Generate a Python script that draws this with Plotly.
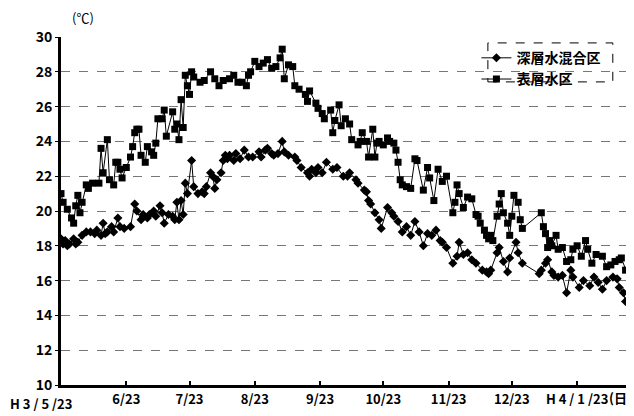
import pandas as pd
import plotly.graph_objects as go

# ---- data (days since H3/5/23 = 1991-05-23) ----
deep_days = [0, 1, 2, 3, 4, 6, 7, 8, 10, 12, 14, 16, 17, 19, 20, 21, 22, 24, 25, 27, 28, 30, 33, 35, 36,
             38, 39, 41, 42, 44, 45, 47, 48, 49, 51, 53, 54, 55, 56, 57, 58, 59, 60, 62, 63, 65, 67, 68,
             69, 71, 72, 73, 74, 76, 77, 78, 79, 80, 82, 83, 85, 87, 89, 91, 94, 95, 97, 98, 100, 101,
             103, 105, 106, 108, 111, 112, 114, 117, 118, 119, 121, 122, 124, 126, 129, 131, 134, 136,
             137, 140, 141, 144, 145, 146, 147, 149, 151, 152, 155, 157, 158, 160, 162, 164, 166, 168,
             170, 172, 174, 176, 178, 180, 181, 183, 186, 188, 189, 191, 193, 195, 197, 200, 202, 203,
             204, 207, 208, 210, 212, 213, 216, 217, 219, 227, 228, 230, 231, 233, 234, 236, 238, 240,
             242, 243, 246, 248, 251, 253, 255, 257, 259, 262, 264, 265, 267, 268, 270, 271]
deep_temp = [18.4, 18.1, 18.3, 18.0, 18.1, 18.4, 18.1, 18.2, 18.6, 18.8, 18.8, 18.7, 18.9, 18.6, 19.3,
             18.7, 18.8, 19.1, 18.8, 19.6, 19.1, 19.0, 19.1, 20.4, 20.0, 19.5, 19.8, 19.6, 19.8, 20.0,
             19.7, 20.3, 19.9, 19.3, 19.8, 19.7, 19.5, 20.5, 19.5, 20.6, 19.8, 21.6, 21.0, 22.9, 21.4,
             21.0, 21.1, 21.0, 21.4, 22.2, 22.0, 21.3, 21.8, 22.2, 22.9, 23.2, 23.0, 23.2, 22.9, 23.3,
             23.0, 23.5, 23.1, 23.1, 23.4, 23.1, 23.5, 23.6, 23.3, 23.2, 23.3, 24.0, 23.4, 23.2, 23.1,
             22.9, 22.5, 22.2, 22.0, 22.4, 22.2, 22.5, 22.2, 22.8, 22.4, 22.5, 22.0, 22.0, 22.2, 21.8,
             21.6, 21.2, 21.1, 20.6, 20.4, 19.9, 19.5, 19.0, 20.2, 19.9, 19.7, 19.4, 18.8, 19.1, 18.6,
             19.4, 18.8, 18.0, 18.7, 18.6, 18.9, 18.3, 18.2, 17.9, 17.0, 17.4, 18.2, 17.5, 17.6, 17.2,
             17.0, 16.6, 16.5, 16.4, 16.6, 17.6, 17.9, 17.1, 16.5, 17.3, 18.2, 17.6, 17.0, 16.4, 16.6,
             17.0, 17.2, 16.5, 16.3, 16.2, 16.3, 15.3, 16.6, 16.2, 15.6, 16.0, 15.7, 16.2, 15.9, 15.5,
             16.0, 16.2, 16.1, 15.6, 15.3, 14.8, 15.4, 15.3]

surf_days = [0, 1, 3, 5, 6, 7, 8, 9, 10, 12, 13, 15, 18, 19, 20, 22, 23, 25, 26, 27, 28, 29, 31, 33, 34,
             35, 36, 37, 38, 40, 41, 43, 44, 45, 46, 48, 49, 50, 53, 54, 55, 56, 57, 58, 59, 60, 61, 62,
             63, 66, 68, 71, 73, 75, 77, 80, 82, 84, 86, 88, 89, 90, 92, 94, 96, 98, 100, 102, 104, 105,
             106, 108, 110, 111, 113, 116, 117, 118, 121, 122, 124, 125, 128, 129, 130, 132, 133, 135,
             137, 138, 141, 142, 143, 145, 146, 148, 149, 150, 151, 153, 155, 156, 158, 159, 160, 161,
             162, 164, 166, 168, 169, 172, 174, 175, 177, 179, 181, 183, 186, 187, 188, 189, 191, 193,
             195, 197, 198, 199, 201, 202, 203, 204, 205, 207, 208, 209, 210, 212, 213, 214, 215, 217,
             218, 219, 228, 229, 230, 231, 232, 233, 235, 236, 238, 240, 242, 243, 245, 247, 249, 250,
             252, 254, 257, 259, 261, 263, 265, 266, 268, 270, 271]
surf_temp = [21.0, 20.5, 20.1, 19.6, 19.3, 20.3, 20.9, 19.9, 20.5, 21.5, 21.3, 21.6, 21.6, 23.6, 22.2,
             24.1, 21.8, 21.5, 22.8, 22.8, 22.4, 21.9, 22.5, 23.1, 23.7, 24.5, 24.7, 24.7, 23.2, 22.8,
             23.7, 23.4, 23.2, 23.9, 25.3, 25.3, 25.8, 24.3, 25.7, 24.7, 25.0, 24.1, 26.4, 24.8, 27.8,
             27.2, 26.7, 28.0, 27.7, 27.4, 27.5, 28.0, 27.6, 27.2, 27.5, 27.6, 27.8, 27.4, 27.4, 27.2,
             27.8, 28.0, 28.6, 28.3, 28.5, 28.7, 28.2, 28.3, 28.8, 29.3, 27.6, 28.4, 28.3, 27.2, 27.0,
             26.7, 26.3, 26.9, 26.2, 25.9, 25.6, 25.3, 25.8, 24.5, 25.2, 26.1, 24.9, 25.3, 25.0, 24.1,
             23.8, 24.0, 24.5, 24.0, 23.1, 24.7, 23.1, 23.9, 24.0, 23.8, 24.2, 24.0, 23.9, 23.5, 22.8,
             21.8, 21.5, 21.4, 21.3, 23.0, 22.9, 21.2, 22.5, 21.9, 20.6, 22.4, 21.7, 22.0, 19.9, 20.5,
             21.5, 21.0, 20.2, 20.8, 20.7, 19.8, 19.7, 19.3, 18.9, 18.6, 18.4, 18.6, 18.3, 19.7, 20.4,
             21.0, 19.9, 19.3, 18.6, 19.7, 20.9, 20.5, 19.5, 19.0, 19.9, 19.1, 18.7, 17.9, 18.3, 18.0,
             18.6, 17.8, 17.9, 17.1, 17.2, 17.8, 18.0, 17.4, 18.3, 17.8, 17.0, 17.5, 17.4, 16.8, 16.9,
             17.1, 17.2, 17.3, 16.6, 16.0, 16.6]

series_names = ["深層水混合区", "表層水区"]
tick_dates = ["1991-05-23", "1991-06-23", "1991-07-23", "1991-08-23", "1991-09-23",
              "1991-10-23", "1991-11-23", "1991-12-23", "1992-01-23"]
tick_labels = ["", "6/23", "7/23", "8/23", "9/23", "10/23", "11/23", "12/23", "H 4 / 1 /23"]
first_label = "H 3 / 5 /23"
y_ticks = [10, 12, 14, 16, 18, 20, 22, 24, 26, 28, 30]

start = pd.Timestamp("1991-05-23")
deep_x = start + pd.to_timedelta(deep_days, unit="D")
surf_x = start + pd.to_timedelta(surf_days, unit="D")
x_end = start + pd.Timedelta(days=272)

FONT = "Noto Sans CJK JP"

fig = go.Figure()
fig.add_trace(go.Scatter(
    x=deep_x, y=deep_temp, name=series_names[0], mode="lines+markers",
    line=dict(color="black", width=1),
    marker=dict(symbol="diamond", size=7, color="black"),
))
fig.add_trace(go.Scatter(
    x=surf_x, y=surf_temp, name=series_names[1], mode="lines+markers",
    line=dict(color="black", width=1),
    marker=dict(symbol="square", size=7, color="black"),
))

# page body has an 8px margin, so the figure is 8px smaller and offset
fig.update_layout(
    width=626, height=408,
    margin=dict(l=53, r=0, t=29, b=31),
    paper_bgcolor="white", plot_bgcolor="white",
    font=dict(family=FONT, size=13, color="black"),
    showlegend=True,
    legend=dict(x=0.725, y=0.985, xanchor="left", yanchor="top",
                bgcolor="rgba(0,0,0,0)", borderwidth=0,
                font=dict(family=FONT, size=14, color="black", weight="bold"),
                tracegroupgap=0, itemwidth=30),
    xaxis=dict(
        type="date", range=[start, x_end],
        tickmode="array", tickvals=tick_dates, ticktext=tick_labels,
        showgrid=False, showline=True, linecolor="black", linewidth=3,
        ticks="inside", ticklen=4, tickwidth=2, tickcolor="black",
        tickfont=dict(family=FONT, size=13, weight="bold"),
        zeroline=False, automargin=False,
    ),
    yaxis=dict(
        range=[10, 30], tickmode="array", tickvals=y_ticks,
        showgrid=True, gridcolor="#777777", gridwidth=1, griddash="dash",
        showline=True, linecolor="black", linewidth=3,
        ticks="outside", ticklen=3, tickwidth=1, tickcolor="black",
        tickfont=dict(family=FONT, size=14, weight="bold"),
        zeroline=False, automargin=False,
    ),
    shapes=[dict(type="rect", xref="paper", yref="paper",
                 x0=0.745, x1=0.963, y0=0.871, y1=0.983,
                 line=dict(color="black", width=1, dash="dash"))],
    annotations=[
        dict(text="(℃)", xref="paper", yref="paper", x=0.038, y=1.0, yshift=20,
             xanchor="center", yanchor="middle", showarrow=False,
             font=dict(family=FONT, size=13)),
        dict(text=first_label, xref="x", yref="paper", x=start, y=0, yshift=-18,
             xshift=-20, xanchor="center", yanchor="middle", showarrow=False,
             font=dict(family=FONT, size=13, weight="bold")),
        dict(text="(日)", xref="paper", yref="paper", x=1.0, y=0, yshift=-12,
             xanchor="right", yanchor="middle", showarrow=False,
             font=dict(family=FONT, size=13, weight="bold")),
    ],
)

fig.write_html("out.html")
